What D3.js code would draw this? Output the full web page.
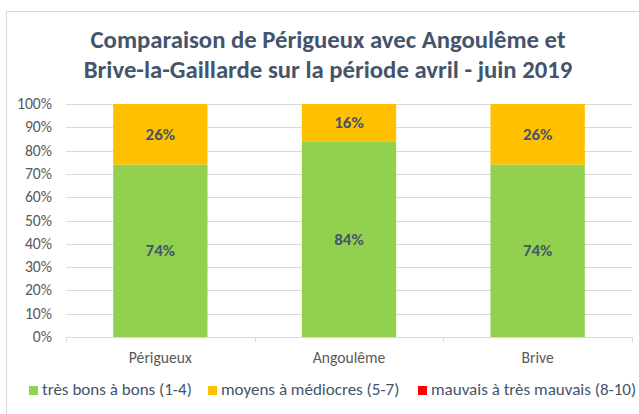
<!DOCTYPE html>
<html>
<head>
<meta charset="utf-8">
<script src="https://cdn.jsdelivr.net/npm/d3@7"></script>
<style>
  body { margin: 0; background: #fff; }
  text { font-family: Carlito, Calibri, Lato, sans-serif; }
</style>
</head>
<body>
<div id="chart"></div>
<script>
const cities = ['Périgueux', 'Angoulême', 'Brive']
const tresBons = [0.74, 0.84, 0.74]
const moyens = [0.26, 0.16, 0.26]
const mauvais = [0, 0, 0]
const seriesNames = ['très bons à bons (1-4)', 'moyens à médiocres (5-7)', 'mauvais à très mauvais (8-10)']
const seriesColors = ['#92d050', '#ffc000', '#ff0000']
const yTicks = [0, 0.1, 0.2, 0.3, 0.4, 0.5, 0.6, 0.7, 0.8, 0.9, 1]
const titleLines = ['Comparaison de Périgueux avec Angoulême et', 'Brive-la-Gaillarde sur la période avril - juin 2019']

const width = 639
const height = 414
const plot = { left: 66, right: 632, top: 104, bottom: 337 }

// scale a text's font size so it spans the wanted width
function fitWidth (sel, target) {
  sel.each(function () {
    const fs = parseFloat(d3.select(this).attr('font-size'))
    const w = this.getComputedTextLength()
    d3.select(this).attr('font-size', (fs * target / w).toFixed(2))
  })
}

const svg = d3.select('#chart').append('svg')
  .attr('width', width)
  .attr('height', height)

// chart frame
svg.append('rect')
  .attr('x', 6.5).attr('y', 11.5)
  .attr('width', 640).attr('height', 410)
  .attr('fill', 'none')
  .attr('stroke', '#d9d9d9')

svg.append('g')
  .selectAll('text')
  .data(titleLines)
  .join('text')
  .attr('x', 328)
  .attr('y', (d, i) => 48 + i * 30)
  .attr('text-anchor', 'middle')
  .attr('fill', '#44546a')
  .attr('font-size', 20)
  .attr('font-weight', 'bold')
  .text(d => d)
  .filter((d, i) => i === 0)
  .call(fitWidth, 475)
svg.selectAll('text').filter((d, i) => i === 1)
  .attr('font-size', svg.select('text').attr('font-size'))

const x = d3.scaleBand()
  .domain(cities)
  .range([plot.left, plot.right])
  .paddingInner(0.5)
  .paddingOuter(0.25)

const y = d3.scaleLinear()
  .domain([0, 1])
  .range([plot.bottom, plot.top])

// gridlines
svg.append('g')
  .selectAll('line')
  .data(yTicks.slice(1))
  .join('line')
  .attr('x1', plot.left).attr('x2', plot.right)
  .attr('y1', d => Math.round(y(d)) + 0.5)
  .attr('y2', d => Math.round(y(d)) + 0.5)
  .attr('stroke', '#d9d9d9')

// y labels
const yLabels = svg.append('g')
  .selectAll('text')
  .data(yTicks)
  .join('text')
  .attr('x', 52)
  .attr('y', d => y(d) + 5)
  .attr('text-anchor', 'end')
  .attr('font-size', 13)
  .attr('fill', '#595959')
  .text(d3.format('.0%'))
const yFs = (() => {
  const n = yLabels.filter(d => d === 1).node()
  return 13 * 35 / n.getComputedTextLength()
})()
yLabels.attr('font-size', yFs.toFixed(2))

// stacked bars
const rows = cities.map((c, i) => ({ city: c, s0: tresBons[i], s1: moyens[i], s2: mauvais[i] }))
const stack = d3.stack().keys(['s0', 's1', 's2'])(rows)

stack.forEach((layer, k) => {
  const g = svg.append('g')
  g.selectAll('rect')
    .data(layer)
    .join('rect')
    .attr('x', d => x(d.data.city))
    .attr('width', x.bandwidth())
    .attr('y', d => y(d[1]))
    .attr('height', d => y(d[0]) - y(d[1]))
    .attr('fill', seriesColors[k])
  g.selectAll('text')
    .data(layer.filter(d => d[1] - d[0] > 0))
    .join('text')
    .attr('x', d => x(d.data.city) + x.bandwidth() / 2)
    .attr('y', d => y((d[0] + d[1]) / 2) + 5.5)
    .attr('text-anchor', 'middle')
    .attr('font-size', yFs * 1.08)
    .attr('font-weight', 'bold')
    .attr('fill', '#44546a')
    .text(d => d3.format('.0%')(d[1] - d[0]))
})

// x axis
const xAxis = svg.append('g')
xAxis.append('line')
  .attr('x1', plot.left).attr('x2', plot.right)
  .attr('y1', plot.bottom + 0.5).attr('y2', plot.bottom + 0.5)
  .attr('stroke', '#d9d9d9')
xAxis.selectAll('.tick')
  .data(d3.range(cities.length + 1))
  .join('line')
  .attr('x1', i => Math.round(plot.left + i * x.step() * 1) + 0.5)
  .attr('x2', i => Math.round(plot.left + i * x.step() * 1) + 0.5)
  .attr('y1', plot.bottom).attr('y2', plot.bottom + 5)
  .attr('stroke', '#d9d9d9')
xAxis.selectAll('text')
  .data(cities)
  .join('text')
  .attr('x', d => x(d) + x.bandwidth() / 2)
  .attr('y', 363)
  .attr('text-anchor', 'middle')
  .attr('font-size', yFs)
  .attr('fill', '#595959')
  .text(d => d)

// legend
const legendX = [29, 208, 418]
const legend = svg.append('g')
seriesNames.forEach((name, i) => {
  legend.append('rect')
    .attr('x', legendX[i]).attr('y', 386)
    .attr('width', 9).attr('height', 9)
    .attr('fill', seriesColors[i])
  const t = legend.append('text')
    .attr('x', legendX[i] + 13).attr('y', 395)
    .attr('font-size', 16)
    .attr('fill', '#44546a')
    .text(name)
  if (i === 0) t.call(fitWidth, 150)
})
const legendFs = legend.select('text').attr('font-size')
legend.selectAll('text').attr('font-size', legendFs)
</script>
</body>
</html>
